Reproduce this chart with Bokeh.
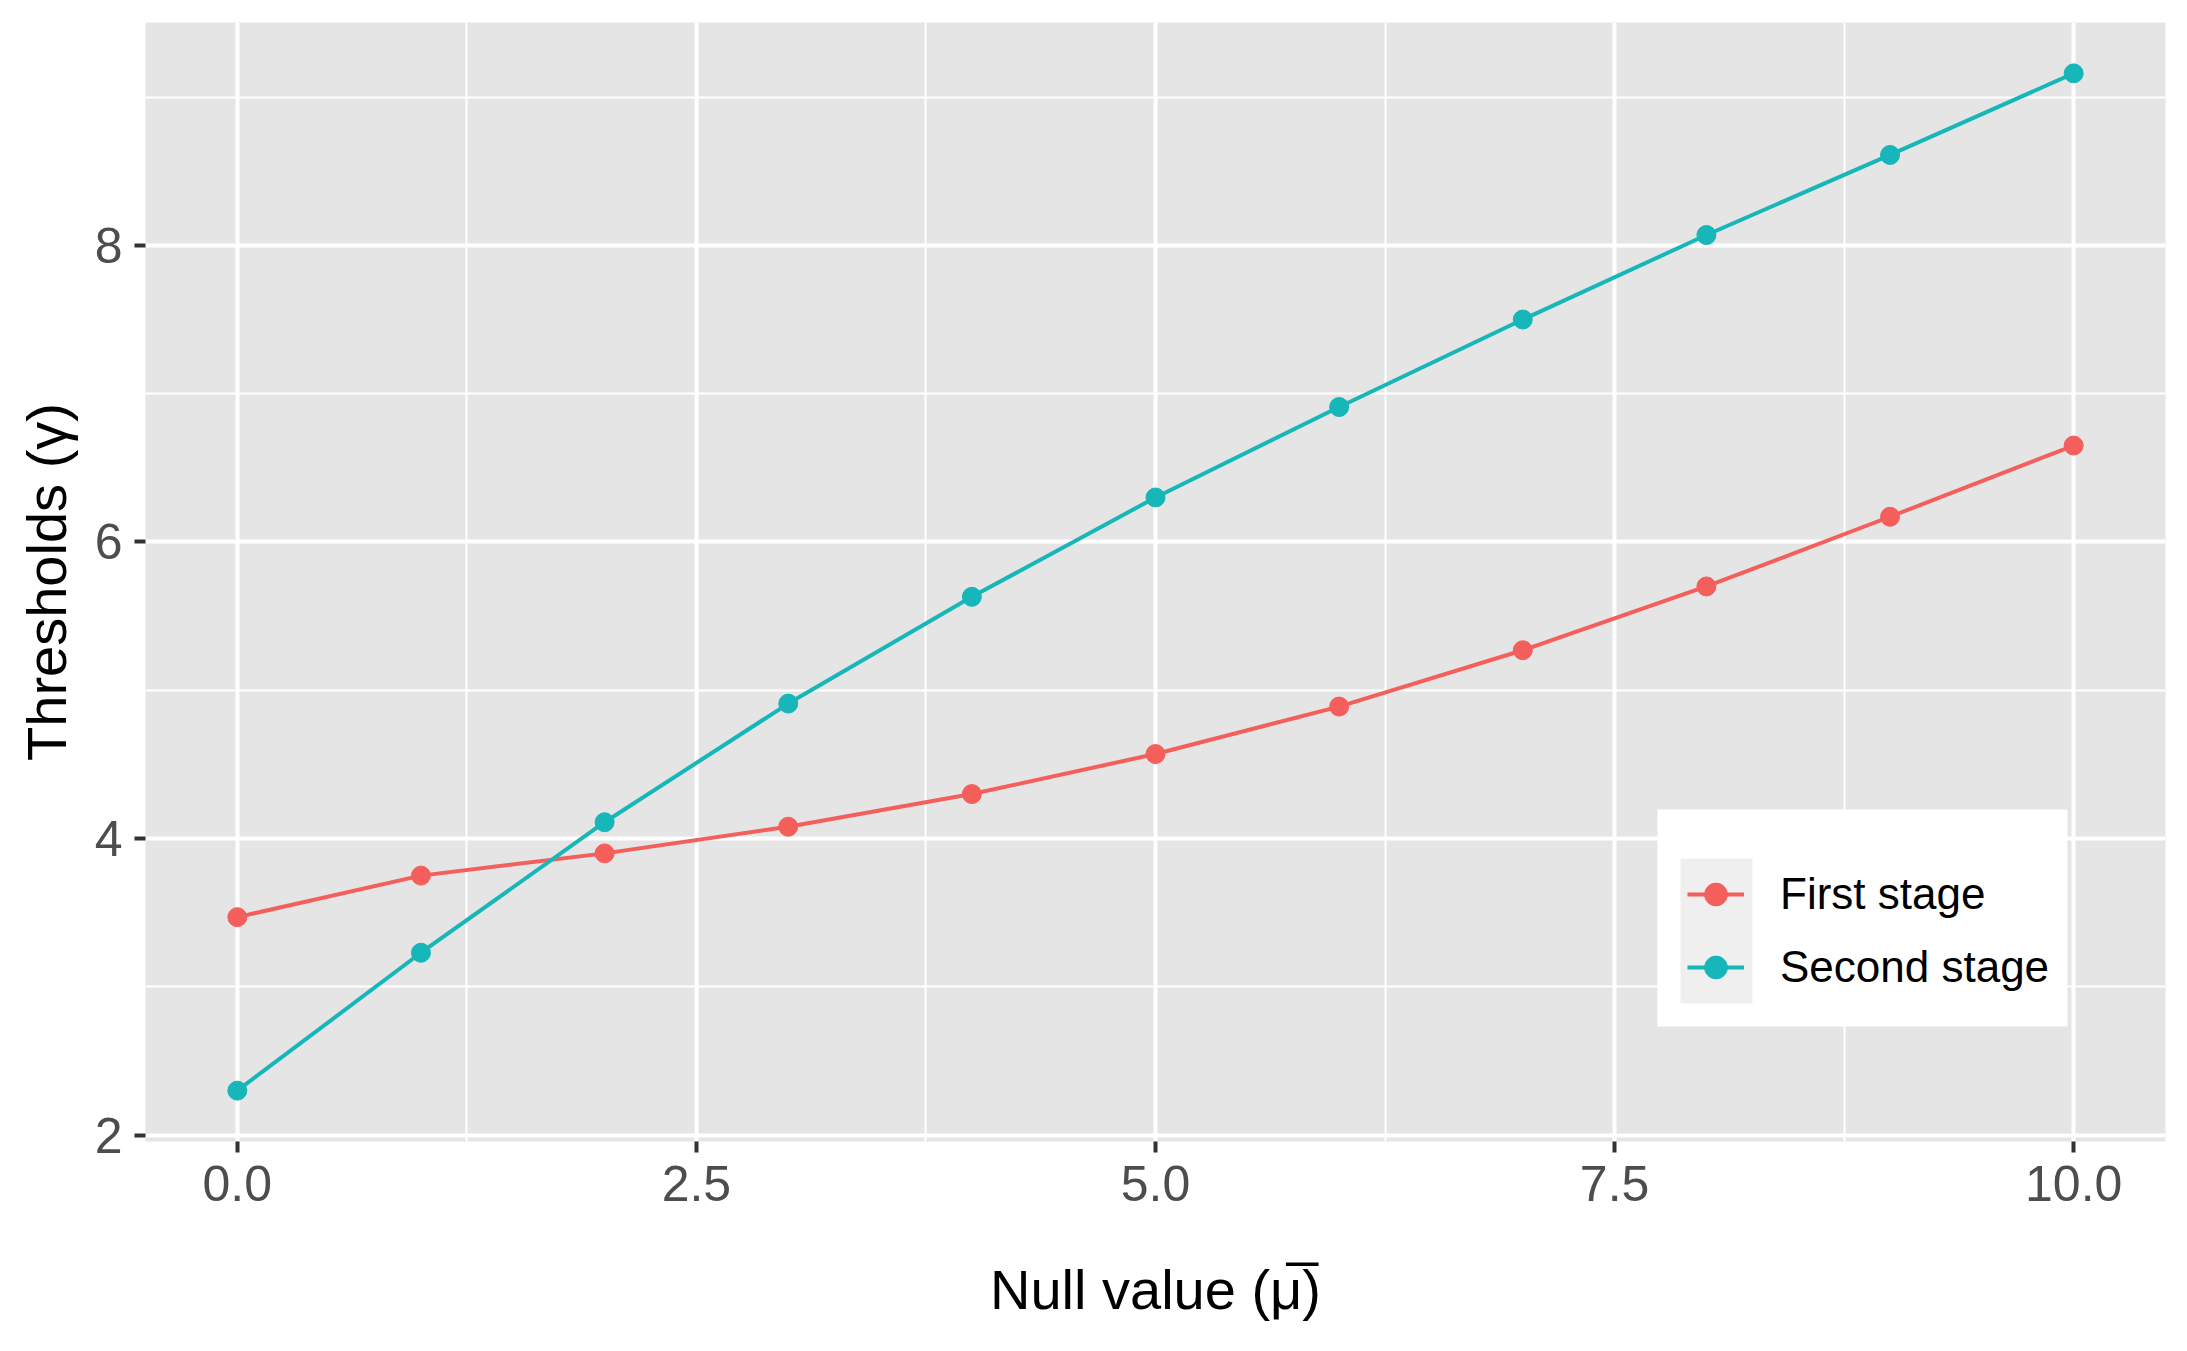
from bokeh.plotting import figure
from bokeh.models import FixedTicker, Range1d, Legend, LegendItem, BoxAnnotation
from bokeh.embed import file_html
from bokeh.resources import INLINE

# ---- data ----
null_values = [0, 1, 2, 3, 4, 5, 6, 7, 8, 9, 10]
first_stage = [3.47, 3.75, 3.90, 4.08, 4.30, 4.57, 4.89, 5.27, 5.70, 6.17, 6.65]
second_stage = [2.30, 3.23, 4.11, 4.91, 5.63, 6.30, 6.91, 7.50, 8.07, 8.61, 9.16]
series_labels = ["First stage", "Second stage"]
series_colors = ["#F45F5B", "#17B6B9"]

x_ticks = [0, 2.5, 5, 7.5, 10]
x_tick_labels = ["0.0", "2.5", "5.0", "7.5", "10.0"]
x_minor = [1.25, 3.75, 6.25, 8.75]
y_ticks = [2, 4, 6, 8]
y_tick_labels = ["2", "4", "6", "8"]
y_minor = [3, 5, 7, 9]

# ---- ranges (ggplot-style 5% expansion) ----
xmin, xmax = min(null_values), max(null_values)
xs = xmax - xmin
x0, x1 = xmin - 0.05 * xs, xmax + 0.05 * xs
all_y = first_stage + second_stage
ymin, ymax = min(all_y), max(all_y)
ys = ymax - ymin
y0, y1 = ymin - 0.05 * ys, ymax + 0.05 * ys

W, H = 2171, 1335
FL, FT = 145, 22          # frame left/top on canvas
FW, FH = 2020, 1119       # frame width/height

p = figure(width=W, height=H, output_backend="svg", toolbar_location=None,
           x_range=Range1d(x0, x1), y_range=Range1d(y0, y1),
           min_border_left=FL, min_border_top=FT,
           min_border_right=W - FL - FW, min_border_bottom=H - FT - FH)

p.background_fill_color = "#E5E5E5"
p.border_fill_color = "white"
p.outline_line_color = None

FONT = "Liberation Sans"

p.xaxis.ticker = FixedTicker(ticks=x_ticks, minor_ticks=x_minor)
p.yaxis.ticker = FixedTicker(ticks=y_ticks, minor_ticks=y_minor)
p.xaxis.major_label_overrides = {t: l for t, l in zip(x_ticks, x_tick_labels)}
p.yaxis.major_label_overrides = {t: l for t, l in zip(y_ticks, y_tick_labels)}

for ax in (p.xaxis, p.yaxis):
    ax.axis_line_color = None
    ax.minor_tick_line_color = None
    ax.major_tick_in = 0
    ax.major_tick_out = 11
    ax.major_tick_line_width = 4
    ax.major_tick_line_color = "#333333"
    ax.major_label_text_font = FONT
    ax.major_label_text_font_size = "50px"
    ax.major_label_text_color = "#4D4D4D"
    ax.axis_label_text_font = FONT
    ax.axis_label_text_font_size = "56px"
    ax.axis_label_text_font_style = "normal"
    ax.axis_label_text_color = "black"

p.xaxis.major_label_standoff = 13
p.yaxis.major_label_standoff = 12
p.xaxis.axis_label = "Null value (\u03bc\u0305)"
p.yaxis.axis_label = "Thresholds (\u03b3)"
p.xaxis.axis_label_standoff = 54
p.yaxis.axis_label_standoff = 14

for g in (p.xgrid, p.ygrid):
    g.grid_line_color = "white"
    g.grid_line_width = 4
    g.minor_grid_line_color = "white"
    g.minor_grid_line_width = 2

renderers = []
for vals, col in zip([first_stage, second_stage], series_colors):
    l = p.line(null_values, vals, line_color=col, line_width=4)
    s = p.scatter(null_values, vals, size=19, fill_color=col, line_color=col)
    renderers.append([l, s])

# legend backgrounds (layout geometry in canvas pixels)
def fx(px):
    return x0 + (px - FL) * (x1 - x0) / FW

def fy(py):
    return y1 - (py - FT) * (y1 - y0) / FH

p.add_layout(BoxAnnotation(left=fx(1657), right=fx(2067), top=fy(809), bottom=fy(1026),
                           fill_color="white", fill_alpha=1, line_color=None))
p.add_layout(BoxAnnotation(left=fx(1680), right=fx(1752), top=fy(858), bottom=fy(1003),
                           fill_color="#EFEFEF", fill_alpha=1, line_color=None))

items = [LegendItem(label=lab, renderers=r) for lab, r in zip(series_labels, renderers)]
legend = Legend(items=items, location=(1687 - FL, FT + FH - 1003),
                padding=0, margin=0, spacing=1,
                glyph_width=57, glyph_height=72, label_standoff=36,
                label_text_font=FONT, label_text_font_size="44px",
                label_text_color="black", label_height=72,
                background_fill_alpha=0, border_line_color=None)
p.add_layout(legend, "center")

open("out.html", "w").write(file_html(p, INLINE))
